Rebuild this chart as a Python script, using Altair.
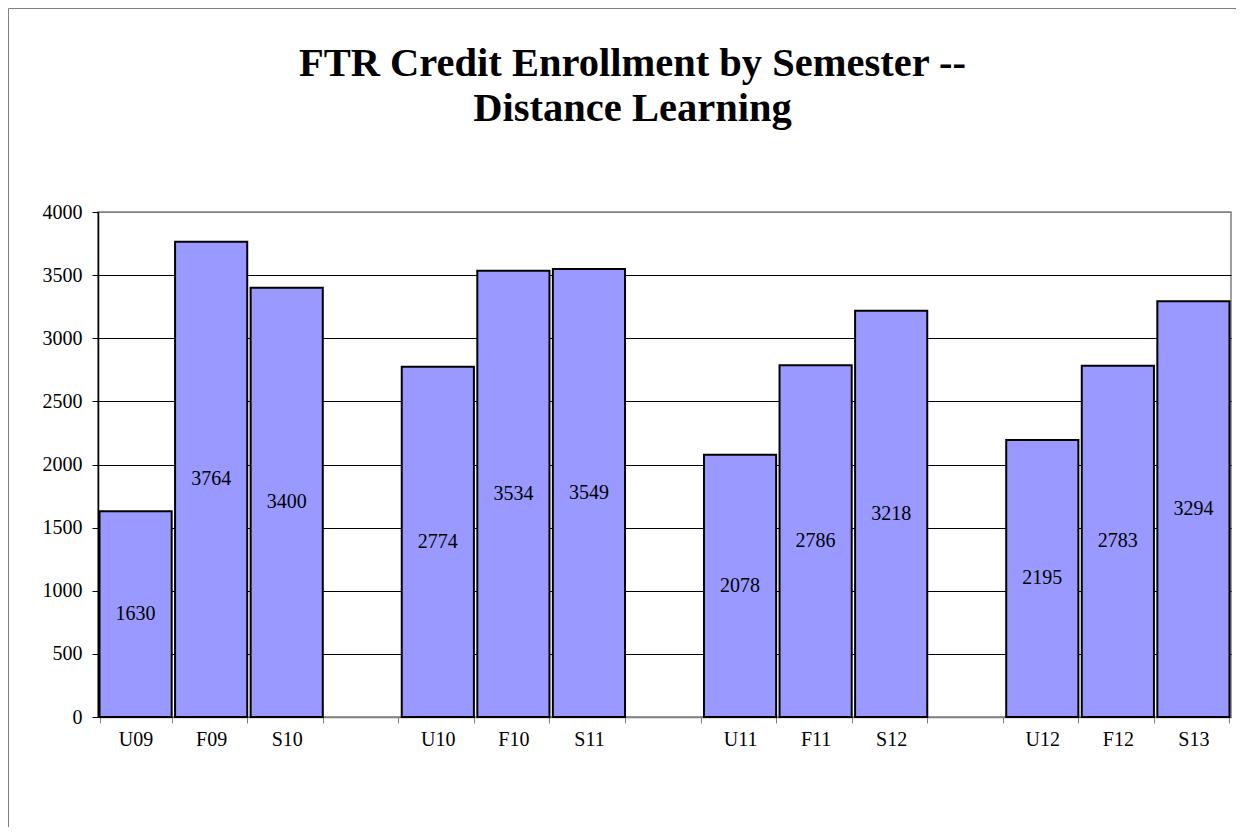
import altair as alt
import pandas as pd

categories = ["U09", "F09", "S10", " ", "U10", "F10", "S11", "  ",
              "U11", "F11", "S12", "   ", "U12", "F12", "S13"]
semesters = ["U09", "F09", "S10", "U10", "F10", "S11",
             "U11", "F11", "S12", "U12", "F12", "S13"]
enrollment = [1630, 3764, 3400, 2774, 3534, 3549,
              2078, 2786, 3218, 2195, 2783, 3294]
y_ticks = [0, 500, 1000, 1500, 2000, 2500, 3000, 3500, 4000]

df = pd.DataFrame({"sem": semesters, "v": enrollment})

FONT = "Liberation Serif"

x_enc = alt.X(
    "sem:N",
    sort=categories,
    scale=alt.Scale(domain=categories, paddingInner=0.045, paddingOuter=0.02),
    axis=alt.Axis(
        title=None, labelAngle=0, labelFont=FONT, labelFontSize=20, labelColor="black",
        tickBand="extent", tickColor="#808080", tickSize=6, domainColor="#808080",
        domainWidth=1.5, labelPadding=6, grid=False,
    ),
)

base = alt.Chart(df)

bars = base.mark_bar(fill="#9999FF", stroke="black", strokeWidth=2).encode(
    x=x_enc,
    y=alt.Y(
        "v:Q",
        scale=alt.Scale(domain=[0, 4000], nice=False),
        axis=alt.Axis(
            title=None, values=y_ticks, format="d", labelFont=FONT, labelFontSize=20,
            labelColor="black", tickColor="black", tickSize=6, labelPadding=10,
            domainColor="black", domainWidth=1.5,
            gridColor={"condition": {"test": "datum.value == 0 || datum.value == 4000",
                                     "value": "#808080"}, "value": "black"},
            gridWidth=1,
        ),
    ),
)

labels = base.transform_calculate(mid="datum.v / 2").mark_text(
    font=FONT, fontSize=20, color="black", baseline="middle", align="center"
).encode(
    x=alt.X("sem:N", sort=categories),
    y=alt.Y("mid:Q"),
    text=alt.Text("v:Q"),
)

frame = alt.Chart(pd.DataFrame({"k": [0]})).mark_rect(
    fill=None, stroke="#808080", strokeWidth=1
).encode(
    x=alt.value(-89.5), x2=alt.value(3000), y=alt.value(-203.5), y2=alt.value(3000)
)

chart = alt.layer(frame, bars, labels).properties(
    width=1133,
    height=505,
    title=alt.TitleParams(
        ["FTR Credit Enrollment by Semester --", "Distance Learning"],
        font=FONT, fontSize=40.5, fontWeight="bold", color="black",
        anchor="middle", frame="group", dx=-32, offset=-121, lineHeight=45,
    ),
    autosize=alt.AutoSizeParams(type="none"),
    padding={"left": 90, "top": 204, "right": 5, "bottom": 110},
).configure_view(
    stroke="#808080", strokeWidth=1.5
).configure_axis(
    labelFont=FONT, labelFontSize=20, labelColor="black"
)

chart.save("out.html", embed_options={"renderer": "svg", "actions": False})
